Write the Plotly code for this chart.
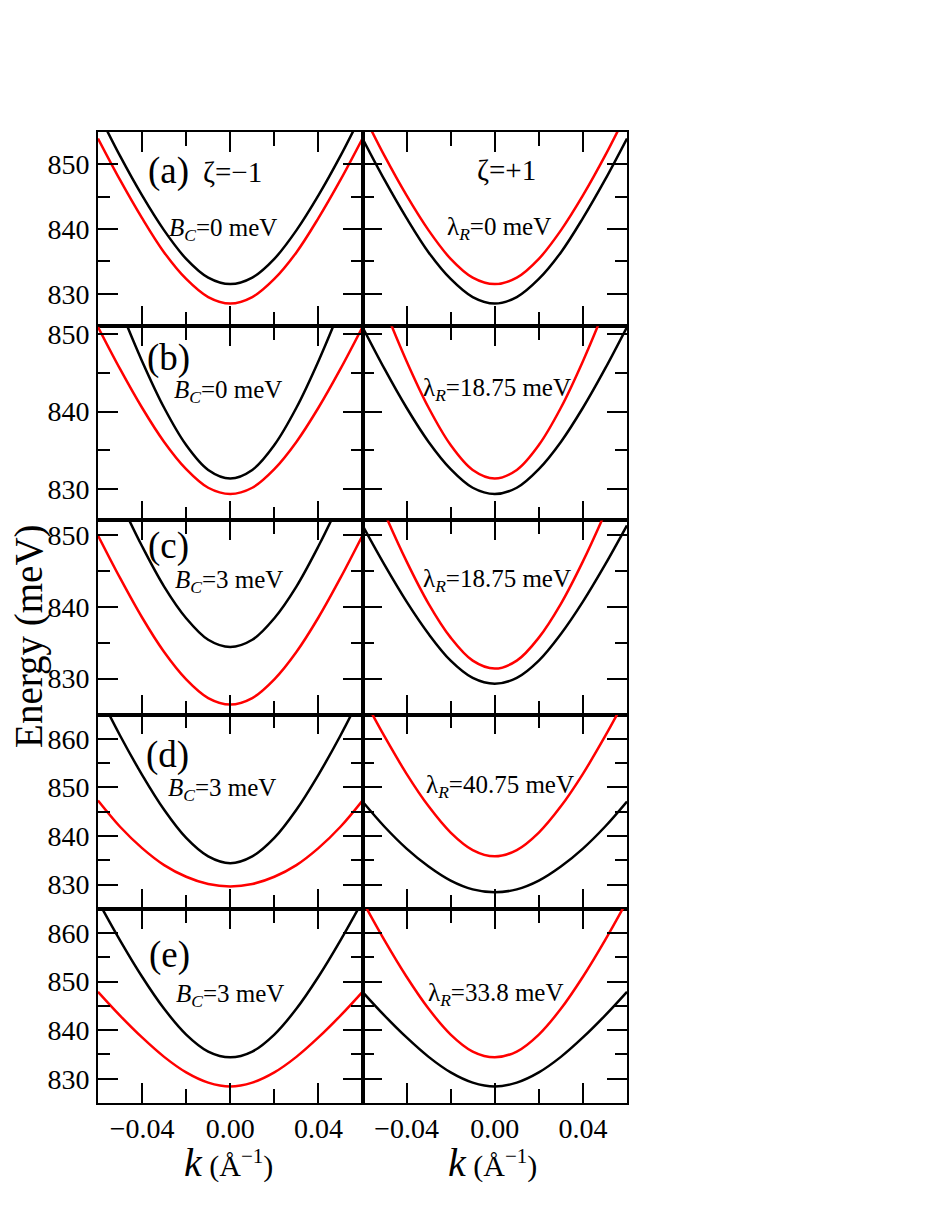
import plotly.graph_objects as go
from plotly.subplots import make_subplots

# ---- data ----
K = [-0.06, -0.05, -0.04, -0.03, -0.02, -0.01, 0.00, 0.01, 0.02, 0.03, 0.04, 0.05, 0.06]

# (a) B_C = 0, lambda_R = 0
a_left_black = [858.0, 851.3, 845.2, 839.8, 835.4, 832.5, 831.5, 832.5, 835.4, 839.8, 845.2, 851.3, 858.0]
a_left_red = [854.0, 847.6, 841.7, 836.4, 832.3, 829.5, 828.5, 829.5, 832.3, 836.4, 841.7, 847.6, 854.0]
a_right_black = [854.0, 847.6, 841.7, 836.4, 832.3, 829.5, 828.5, 829.5, 832.3, 836.4, 841.7, 847.6, 854.0]
a_right_red = [858.0, 851.3, 845.2, 839.8, 835.4, 832.5, 831.5, 832.5, 835.4, 839.8, 845.2, 851.3, 858.0]

# (b) B_C = 0, lambda_R = 18.75
b_left_black = [860.7, 853.3, 846.5, 840.5, 835.7, 832.5, 831.4, 832.5, 835.7, 840.5, 846.5, 853.3, 860.7]
b_left_red = [850.9, 845.5, 840.5, 836.1, 832.6, 830.2, 829.4, 830.2, 832.6, 836.1, 840.5, 845.5, 850.9]
b_right_black = [850.9, 845.5, 840.5, 836.1, 832.6, 830.2, 829.4, 830.2, 832.6, 836.1, 840.5, 845.5, 850.9]
b_right_red = [860.7, 853.3, 846.5, 840.5, 835.7, 832.5, 831.4, 832.5, 835.7, 840.5, 846.5, 853.3, 860.7]

# (c) B_C = 3, lambda_R = 18.75
c_left_black = [861.5, 854.7, 848.4, 842.8, 838.4, 835.4, 834.4, 835.4, 838.4, 842.8, 848.4, 854.7, 861.5]
c_left_red = [849.9, 844.0, 838.5, 833.7, 829.9, 827.3, 826.4, 827.3, 829.9, 833.7, 838.5, 844.0, 849.9]
c_right_black = [851.3, 845.8, 840.7, 836.2, 832.5, 830.1, 829.3, 830.1, 832.5, 836.2, 840.7, 845.8, 851.3]
c_right_red = [860.3, 853.0, 846.3, 840.4, 835.7, 832.5, 831.4, 832.5, 835.7, 840.4, 846.3, 853.0, 860.3]

# (d) B_C = 3, lambda_R = 40.75
d_left_black = [869.6, 860.7, 852.6, 845.4, 839.6, 835.8, 834.4, 835.8, 839.6, 845.4, 852.6, 860.7, 869.6]
d_left_red = [847.3, 841.9, 837.5, 834.0, 831.6, 830.1, 829.6, 830.1, 831.6, 834.0, 837.5, 841.9, 847.3]
d_right_black = [847.1, 841.9, 837.4, 833.7, 830.8, 829.0, 828.4, 829.0, 830.8, 833.7, 837.4, 841.9, 847.1]
d_right_red = [868.8, 860.5, 852.8, 846.1, 840.7, 837.1, 835.8, 837.1, 840.7, 846.1, 852.8, 860.5, 868.8]

# (e) B_C = 3, lambda_R = 33.8
e_left_black = [866.6, 858.5, 851.0, 844.4, 839.1, 835.6, 834.4, 835.6, 839.1, 844.4, 851.0, 858.5, 866.6]
e_left_red = [847.9, 843.0, 838.5, 834.5, 831.3, 829.2, 828.4, 829.2, 831.3, 834.5, 838.5, 843.0, 847.9]
e_right_black = [847.9, 843.0, 838.5, 834.5, 831.3, 829.2, 828.4, 829.2, 831.3, 834.5, 838.5, 843.0, 847.9]
e_right_red = [866.6, 858.5, 851.0, 844.4, 839.1, 835.6, 834.4, 835.6, 839.1, 844.4, 851.0, 858.5, 866.6]

y_ranges = [[825, 855], [826, 851], [825, 852], [825, 865], [825, 865]]
row_labels = ["(a)", "(b)", "(c)", "(d)", "(e)"]
bc_values = ["0", "0", "3", "3", "3"]
lr_values = ["0", "18.75", "18.75", "40.75", "33.8"]

panels = {
    (1, 1): (a_left_black, a_left_red), (1, 2): (a_right_black, a_right_red),
    (2, 1): (b_left_black, b_left_red), (2, 2): (b_right_black, b_right_red),
    (3, 1): (c_left_black, c_left_red), (3, 2): (c_right_black, c_right_red),
    (4, 1): (d_left_black, d_left_red), (4, 2): (d_right_black, d_right_red),
    (5, 1): (e_left_black, e_left_red), (5, 2): (e_right_black, e_right_red),
}

# ---- figure ----
# the page body has an 8px margin, so the figure is drawn 8px smaller and
# every pixel position below is taken from the reference minus 8
OFF = 8
W, H = 937 - 2 * OFF, 1213 - 2 * OFF
L, R, T, B = 98 - OFF, 627.5 - OFF, 132 - OFF, 1103.3 - OFF
FONT = "Liberation Serif, Times New Roman, serif"

fig = make_subplots(rows=5, cols=2, horizontal_spacing=0, vertical_spacing=0)

for (r, c), (black, red) in panels.items():
    fig.add_trace(go.Scatter(x=K, y=black, mode="lines", line=dict(color="black", width=2.5, shape="spline"),
                             showlegend=False), row=r, col=c)
    fig.add_trace(go.Scatter(x=K, y=red, mode="lines", line=dict(color="#ff0000", width=2.5, shape="spline"),
                             showlegend=False), row=r, col=c)
    fig.update_xaxes(range=[-0.06, 0.06], showline=True, linecolor="black", linewidth=1.6, mirror="ticks",
                     ticks="inside", ticklen=20, tickwidth=2, tickcolor="black", tick0=0, dtick=0.04,
                     minor=dict(dtick=0.02, ticks="inside", ticklen=14, tickwidth=2, tickcolor="black"),
                     showgrid=False, zeroline=False, showticklabels=(r == 5), tickformat=".2f",
                     tickfont=dict(family=FONT, size=28, color="black"), row=r, col=c)
    fig.update_yaxes(range=y_ranges[r - 1], showline=True, linecolor="black", linewidth=1.6, mirror="ticks",
                     ticks="inside", ticklen=20, tickwidth=2, tickcolor="black", tick0=0, dtick=10,
                     minor=dict(dtick=5, ticks="inside", ticklen=12, tickwidth=2, tickcolor="black"),
                     showgrid=False, zeroline=False, showticklabels=(c == 1), ticklabelstandoff=1,
                     tickfont=dict(family=FONT, size=28, color="black"), row=r, col=c)


def paper(x, y):
    # reference pixel -> paper coordinates of the plot area
    x, y = x - OFF, y - OFF
    return (x - L) / (R - L), (B - y) / (B - T)


notes = []


def note(text, x, y, size, angle=0):
    xp, yp = paper(x, y)
    notes.append(dict(text=text, x=xp, y=yp, xref="paper", yref="paper", showarrow=False,
                      xanchor="center", yanchor="middle", textangle=angle,
                      font=dict(family=FONT, size=size, color="black")))


label_pos = [(169, 171), (169, 358), (169, 546), (168, 755), (170, 955)]
bc_pos = [(223, 230), (228, 392), (229, 582), (222, 790), (230, 996)]
lr_pos = [(499, 229), (497, 390), (497, 581), (500, 787), (496, 995)]

for i in range(5):
    note(row_labels[i], *label_pos[i], 37)
    note("<i>B</i><sub><i>C</i></sub>=" + bc_values[i] + " meV", *bc_pos[i], 25)
    note("λ<sub><i>R</i></sub>=" + lr_values[i] + " meV", *lr_pos[i], 25)

note("ζ=−1", 233, 172, 29)
note("ζ=+1", 507, 170, 29)
note("Energy (meV)", 29, 637, 39, angle=-90)
note("<span style='font-size:40px'><i>k</i></span> (Å<sup>−1</sup>)", 229, 1163, 30)
note("<span style='font-size:40px'><i>k</i></span> (Å<sup>−1</sup>)", 493, 1163, 30)

fig.update_layout(width=W, height=H, margin=dict(l=L, r=W - R, t=T, b=H - B),
                  plot_bgcolor="white", paper_bgcolor="white", annotations=notes,
                  font=dict(family=FONT, color="black"))

fig.write_html("out.html")
